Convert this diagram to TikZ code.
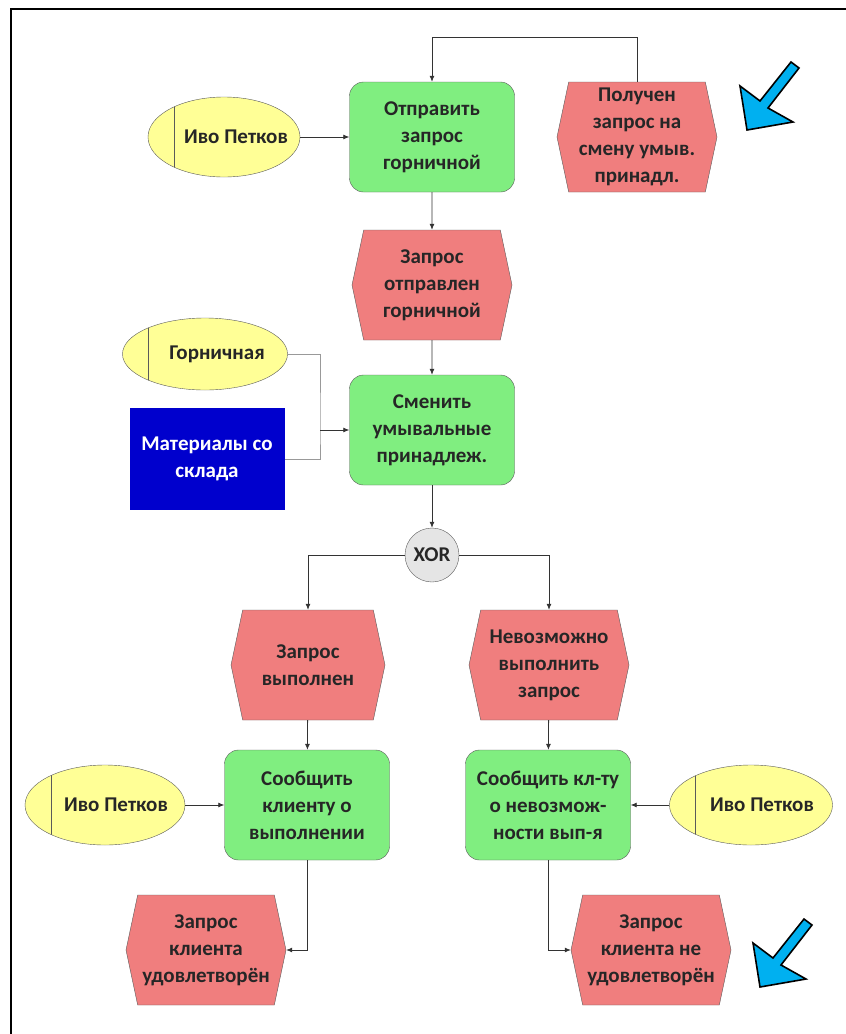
\documentclass[tikz,border=0pt]{standalone}
\usepackage{fontspec}
\setmainfont{Carlito}
\usetikzlibrary{arrows.meta,shapes.geometric,shapes.symbols}

\definecolor{funcgreen}{RGB}{128,238,128}
\definecolor{eventred}{RGB}{240,126,126}
\definecolor{orgyellow}{RGB}{255,255,150}
\definecolor{matblue}{RGB}{0,0,205}
\definecolor{pointerblue}{RGB}{0,176,240}
\definecolor{edgegrey}{RGB}{90,90,90}

\newcommand{\orgtext}[2][24pt]{\makebox[0pt]{\hspace*{#1}#2}}

\tikzset{
  every node/.style={font=\bfseries\fontsize{21}{27}\selectfont, text=black!85, align=center},
  funcbox/.style={draw=edgegrey, fill=funcgreen, rounded corners=14pt,
    minimum width=165pt, minimum height=110pt, inner sep=2pt},
  eventhex/.style={signal, signal to=west and east, signal pointer angle=156,
    draw=edgegrey, fill=eventred, minimum width=160pt, minimum height=110pt, inner sep=1pt},
  orgunit/.style={ellipse, draw=edgegrey, fill=orgyellow, minimum width=156pt,
    minimum height=80pt, inner sep=0pt,
    path picture={\draw[edgegrey] ([xshift=26pt]path picture bounding box.south west)
      -- ([xshift=26pt]path picture bounding box.north west);}},
  material/.style={fill=matblue, minimum width=155pt, minimum height=102pt, text=white},
  xorgate/.style={circle, draw=edgegrey, fill=black!10, minimum size=54pt, inner sep=0pt},
  flow/.style={draw=black!80, line width=0.8pt, -{Latex[length=6pt,width=5pt]}},
  feed/.style={draw=black!40, line width=0.8pt},
  pointer/.style={fill=pointerblue, draw=black, line width=1.6pt, line join=miter},
}

\begin{document}
\begin{tikzpicture}[x=1pt, y=-1pt]
  \useasboundingbox (0,0) rectangle (846,1034);
  \draw[line width=2.2pt] (11,1034) -- (11,9) -- (846,9);

  % top row
  \node[funcbox] (send) at (432,137) {Отправить\\запрос\\горничной};
  \node[eventhex] (recv) at (637,137) {Получен\\запрос на\\смену умыв.\\принадл.};
  \node[orgunit, minimum width=152pt] (ivo1) at (224,137) {\orgtext{Иво Петков}};

  \node[eventhex] (sent) at (432,285) {Запрос\\отправлен\\горничной};
  \node[orgunit, minimum width=165pt, minimum height=72pt] (maid) at (205,354) {\orgtext{Горничная}};
  \node[material] (stock) at (207,459) {Материалы со\\склада};
  \node[funcbox] (change) at (432,430) {Сменить\\умывальные\\принадлеж.};
  \node[xorgate] (xor) at (432,555) {XOR};

  % two branches
  \node[eventhex, minimum width=154pt] (done) at (308,665) {Запрос\\выполнен};
  \node[eventhex] (fail) at (549,665) {Невозможно\\выполнить\\запрос};
  \node[funcbox] (tellok) at (307,805) {Сообщить\\клиенту о\\выполнении};
  \node[funcbox] (tellno) at (548,805) {Сообщить кл-ту\\о невозмож-\\ности вып-я};
  \node[orgunit, minimum width=160pt] (ivo2) at (105,805) {\orgtext[22pt]{Иво Петков}};
  \node[orgunit, minimum width=163pt] (ivo3) at (751,805) {\orgtext[22pt]{Иво Петков}};
  \node[eventhex] (okend) at (206,950) {Запрос\\клиента\\удовлетворён};
  \node[eventhex] (noend) at (651,950) {Запрос\\клиента не\\удовлетворён};

  % connectors
  \draw[flow] (recv.north) -- ++(0,-44) -| (send.north);
  \draw[flow] (ivo1.east) -- (send.west);
  \draw[flow] (send) -- (sent);
  \draw[flow] (sent) -- (change);
  \coordinate (joint) at (320,430);
  \draw[feed] (maid.east) -| (joint) |- (stock.east);
  \draw[flow] (joint) -- (change.west);
  \draw[flow] (change) -- (xor);
  \draw[flow] (xor.west) -| (done.north);
  \draw[flow] (xor.east) -| (fail.north);
  \draw[flow] (done) -- (tellok);
  \draw[flow] (fail) -- (tellno);
  \draw[flow] (ivo2.east) -- (tellok.west);
  \draw[flow] (ivo3.west) -- (tellno.east);
  \draw[flow] (tellok.south) |- (okend.east);
  \draw[flow] (tellno.south) |- (noend.west);

  % blue markers
  \foreach \sx/\sy in {0/0, 13/857}
    \filldraw[pointer, shift={(\sx,\sy)}] (747,130) -- (740,86) -- (760,101)
      -- (791,62) -- (799,68) -- (768,108) -- (793,122) -- cycle;
\end{tikzpicture}
\end{document}
